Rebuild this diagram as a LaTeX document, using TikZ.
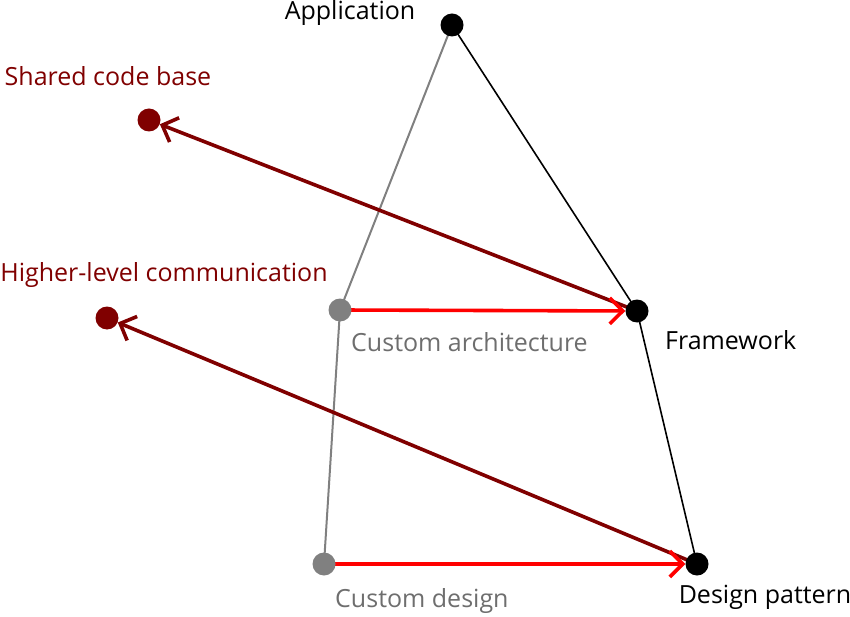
\documentclass[tikz,border=0pt]{standalone}
\usepackage{fontspec}
\setmainfont{Open Sans}
\usetikzlibrary{arrows.meta}
\pgfdeclarelayer{bg}
\pgfsetlayers{bg,main}
\definecolor{dred}{RGB}{128,0,0}
\definecolor{mgray}{RGB}{128,128,128}
\definecolor{lgray}{RGB}{110,110,110}
\begin{document}
\begin{tikzpicture}[x=1pt,y=-1pt,
  dot/.style={circle,fill=#1,inner sep=0pt,minimum size=23pt},
  lbl/.style={text=#1,font=\fontsize{25}{29}\selectfont,inner sep=0pt},
  blk/.style={draw=black,line width=1.6pt},
  gry/.style={draw=mgray,line width=2pt},
  redarr/.style={draw=red,line width=3.6pt,-{Straight Barb[length=13pt,width=26pt,line width=3.6pt]}},
  darr/.style={draw=dred,line width=3.6pt,-{Straight Barb[length=13pt,width=26pt,line width=3.6pt]}}]
\useasboundingbox (0,0) rectangle (850,617);
\node[dot=black] (app) at (452,25) {};
\node[dot=black] (fw) at (637,311) {};
\node[dot=black] (dp) at (697,564) {};
\node[dot=mgray] (ca) at (340,310) {};
\node[dot=mgray] (cd) at (324,564) {};
\node[dot=dred] (scb) at (149,120) {};
\node[dot=dred] (hlc) at (107,318) {};
\node[lbl=black] (tapp) at (350,13) {Application};
\node[lbl=black,anchor=west] (tfw) at (665,340) {Framework};
\node[lbl=black] (tdp) at (765,597) {Design pattern};
\node[lbl=lgray,anchor=west] (tca) at (351,342) {Custom architecture};
\node[lbl=lgray,anchor=west] (tcd) at (335,601) {Custom design};
\node[lbl=dred] (tscb) at (108,76) {Shared code base};
\node[lbl=dred] (thlc) at (164,275) {Higher-level communication};
\begin{pgfonlayer}{bg}
\draw[blk] (app.center) -- (fw.center) -- (dp.center);
\draw[gry] (app.center) -- (ca.center) -- (cd.center);
\draw[darr] (fw.center) -- (scb);
\draw[darr] (dp.center) -- (hlc);
\draw[redarr] (ca.center) -- (fw);
\draw[redarr] (cd.center) -- (dp);
\end{pgfonlayer}
\end{tikzpicture}
\end{document}
